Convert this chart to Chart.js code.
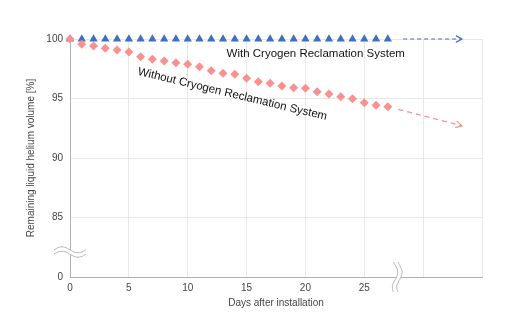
<!DOCTYPE html>
<html>
<head>
<meta charset="utf-8">
<script src="https://cdn.jsdelivr.net/npm/chart.js@4.4.1/dist/chart.umd.min.js"></script>
<style>
  html, body { margin: 0; padding: 0; background: #fff; }
</style>
</head>
<body>
<canvas id="chart" width="514" height="334"></canvas>
<script>
//----------------------------------DATA-------------------------------------
const days = [0, 1, 2, 3, 4, 5, 6, 7, 8, 9, 10, 11, 12, 13, 14, 15, 16, 17, 18, 19, 20, 21, 22, 23, 24, 25, 26, 27];
const withSystem = [100, 100, 100, 100, 100, 100, 100, 100, 100, 100, 100, 100, 100, 100,
                    100, 100, 100, 100, 100, 100, 100, 100, 100, 100, 100, 100, 100, 100];
const withoutSystem = [100, 99.55, 99.41, 99.22, 99.08, 98.9, 98.51, 98.29, 98.15, 98.0, 97.87, 97.67, 97.34, 97.12,
                       97.03, 96.7, 96.41, 96.28, 96.05, 95.91, 95.86, 95.57, 95.38, 95.15, 94.98, 94.65, 94.43, 94.31];

// trend arrows after the last measured day
const withArrowX = [28.3, 33.3];
const withArrowY = [100, 100];
const withoutArrowX = [27.9, 33.3];
const withoutArrowY = [94.09, 92.7];

const xTicks = [0, 5, 10, 15, 20, 25];
const yTickLabels = { 80: '0', 85: '85', 90: '90', 95: '95', 100: '100' };

const labelWith = 'With Cryogen Reclamation System';
const labelWithout = 'Without Cryogen Reclamation System';

const blue = '#3d6fc6';
const pink = '#f99191';

function pairs(xs, ys) {
    return xs.map((x, i) => ({ x: x, y: ys[i] }));
}

//----------------------------------PLUGINS-------------------------------------
// arrow heads at the end of the dashed trend lines
const arrowHeads = {
    id: 'arrowHeads',
    afterDatasetsDraw(chart) {
        const ctx = chart.ctx;
        chart.data.datasets.forEach((ds, i) => {
            if (!ds.arrow) return;
            const pts = chart.getDatasetMeta(i).data;
            const a = pts[pts.length - 2], b = pts[pts.length - 1];
            const ang = Math.atan2(b.y - a.y, b.x - a.x);
            ctx.save();
            ctx.strokeStyle = ds.borderColor;
            ctx.lineWidth = 1.2;
            ctx.beginPath();
            ctx.moveTo(b.x - 7 * Math.cos(ang - 0.5), b.y - 7 * Math.sin(ang - 0.5));
            ctx.lineTo(b.x, b.y);
            ctx.lineTo(b.x - 7 * Math.cos(ang + 0.5), b.y - 7 * Math.sin(ang + 0.5));
            ctx.stroke();
            ctx.restore();
        });
    }
};

// series labels and axis break marks
const decorations = {
    id: 'decorations',
    afterDraw(chart) {
        const ctx = chart.ctx;
        const xs = chart.scales.x, ys = chart.scales.y;

        ctx.save();
        ctx.fillStyle = '#111';
        ctx.font = '11.5px "Liberation Sans", Arial, sans-serif';
        ctx.textBaseline = 'middle';
        ctx.textAlign = 'left';
        ctx.fillText(labelWith, xs.getPixelForValue(13.3), ys.getPixelForValue(98.75));

        ctx.translate(xs.getPixelForValue(13.8), ys.getPixelForValue(95.35));
        ctx.rotate(13.5 * Math.PI / 180);
        ctx.textAlign = 'center';
        ctx.fillText(labelWithout, 0, 0);
        ctx.restore();

        // y axis break
        const cx = xs.left, cy = ys.getPixelForValue(82.1);
        drawBreak(ctx, t => [cx - 16 + 32 * t, cy - 3 * Math.sin(2 * Math.PI * t)], [0, -2.2], [0, 2.2]);
        // x axis break
        const bx = xs.getPixelForValue(27.8), by = ys.bottom;
        drawBreak(ctx, t => [bx + 3 * Math.sin(Math.PI * t * 2 - 0.6) * 0.9, by - 15 + 30 * t], [-2.2, 0], [2.2, 0]);
    }
};

function drawBreak(ctx, f, offA, offB) {
    const n = 24;
    const lineA = [], lineB = [];
    for (let i = 0; i <= n; i++) {
        const [x, y] = f(i / n);
        lineA.push([x + offA[0], y + offA[1]]);
        lineB.push([x + offB[0], y + offB[1]]);
    }
    ctx.save();
    ctx.fillStyle = '#fff';
    ctx.beginPath();
    lineA.forEach((p, i) => i ? ctx.lineTo(p[0], p[1]) : ctx.moveTo(p[0], p[1]));
    lineB.slice().reverse().forEach(p => ctx.lineTo(p[0], p[1]));
    ctx.closePath();
    ctx.fill();
    ctx.strokeStyle = '#b5b5b5';
    ctx.lineWidth = 1;
    [lineA, lineB].forEach(line => {
        ctx.beginPath();
        line.forEach((p, i) => i ? ctx.lineTo(p[0], p[1]) : ctx.moveTo(p[0], p[1]));
        ctx.stroke();
    });
    ctx.restore();
}

//----------------------------------CHART-------------------------------------
const tickFont = { size: 10, family: '"Liberation Sans", Arial, sans-serif' };

const ctx = document.getElementById('chart').getContext('2d');
const chart = new Chart(ctx, {
    type: 'scatter',
    data: {
        datasets: [
            {
                label: labelWithout,
                data: pairs(days, withoutSystem),
                pointStyle: 'rectRot',
                pointRadius: 4.5,
                backgroundColor: pink,
                borderColor: pink,
                borderWidth: 0,
                clip: false
            },
            {
                label: labelWith,
                data: pairs(days, withSystem),
                pointStyle: 'triangle',
                pointRadius: 4.8,
                backgroundColor: blue,
                borderColor: blue,
                borderWidth: 0,
                clip: false
            },
            {
                data: pairs(withArrowX, withArrowY),
                showLine: true,
                arrow: true,
                pointRadius: 0,
                borderColor: blue,
                borderWidth: 1.2,
                borderDash: [4, 3],
                clip: false
            },
            {
                data: pairs(withoutArrowX, withoutArrowY),
                showLine: true,
                arrow: true,
                pointRadius: 0,
                borderColor: pink,
                borderWidth: 1.2,
                borderDash: [5, 4],
                clip: false
            }
        ]
    },
    options: {
        responsive: false,
        animation: false,
        layout: { padding: { left: 21, right: 32, top: 39, bottom: 21 } },
        plugins: {
            legend: { display: false },
            tooltip: { enabled: false }
        },
        scales: {
            x: {
                type: 'linear',
                min: 0,
                max: 35,
                afterFit: s => { s.height = 36; },
                afterBuildTicks: s => {
                    s.ticks = [0, 5, 10, 15, 20, 25, 30, 35].map(v => ({ value: v }));
                },
                ticks: {
                    stepSize: 5,
                    padding: 5,
                    maxRotation: 0,
                    color: '#444',
                    font: tickFont,
                    callback: v => xTicks.includes(v) ? String(v) : ''
                },
                grid: { color: '#e8e8e8', drawTicks: false },
                border: { color: '#b0b0b0', width: 1 },
                title: {
                    display: true,
                    text: 'Days after installation',
                    color: '#444',
                    font: tickFont
                }
            },
            y: {
                type: 'linear',
                min: 80,
                max: 100,
                afterFit: s => { s.width = 49; },
                ticks: {
                    stepSize: 5,
                    padding: 7,
                    color: '#444',
                    font: tickFont,
                    callback: v => yTickLabels[v] !== undefined ? yTickLabels[v] : ''
                },
                grid: { color: '#e8e8e8', drawTicks: false },
                border: { color: '#b0b0b0', width: 1 },
                title: {
                    display: true,
                    text: 'Remaining liquid helium volume [%]',
                    color: '#444',
                    font: tickFont
                }
            }
        }
    },
    plugins: [arrowHeads, decorations]
});
</script>
</body>
</html>
